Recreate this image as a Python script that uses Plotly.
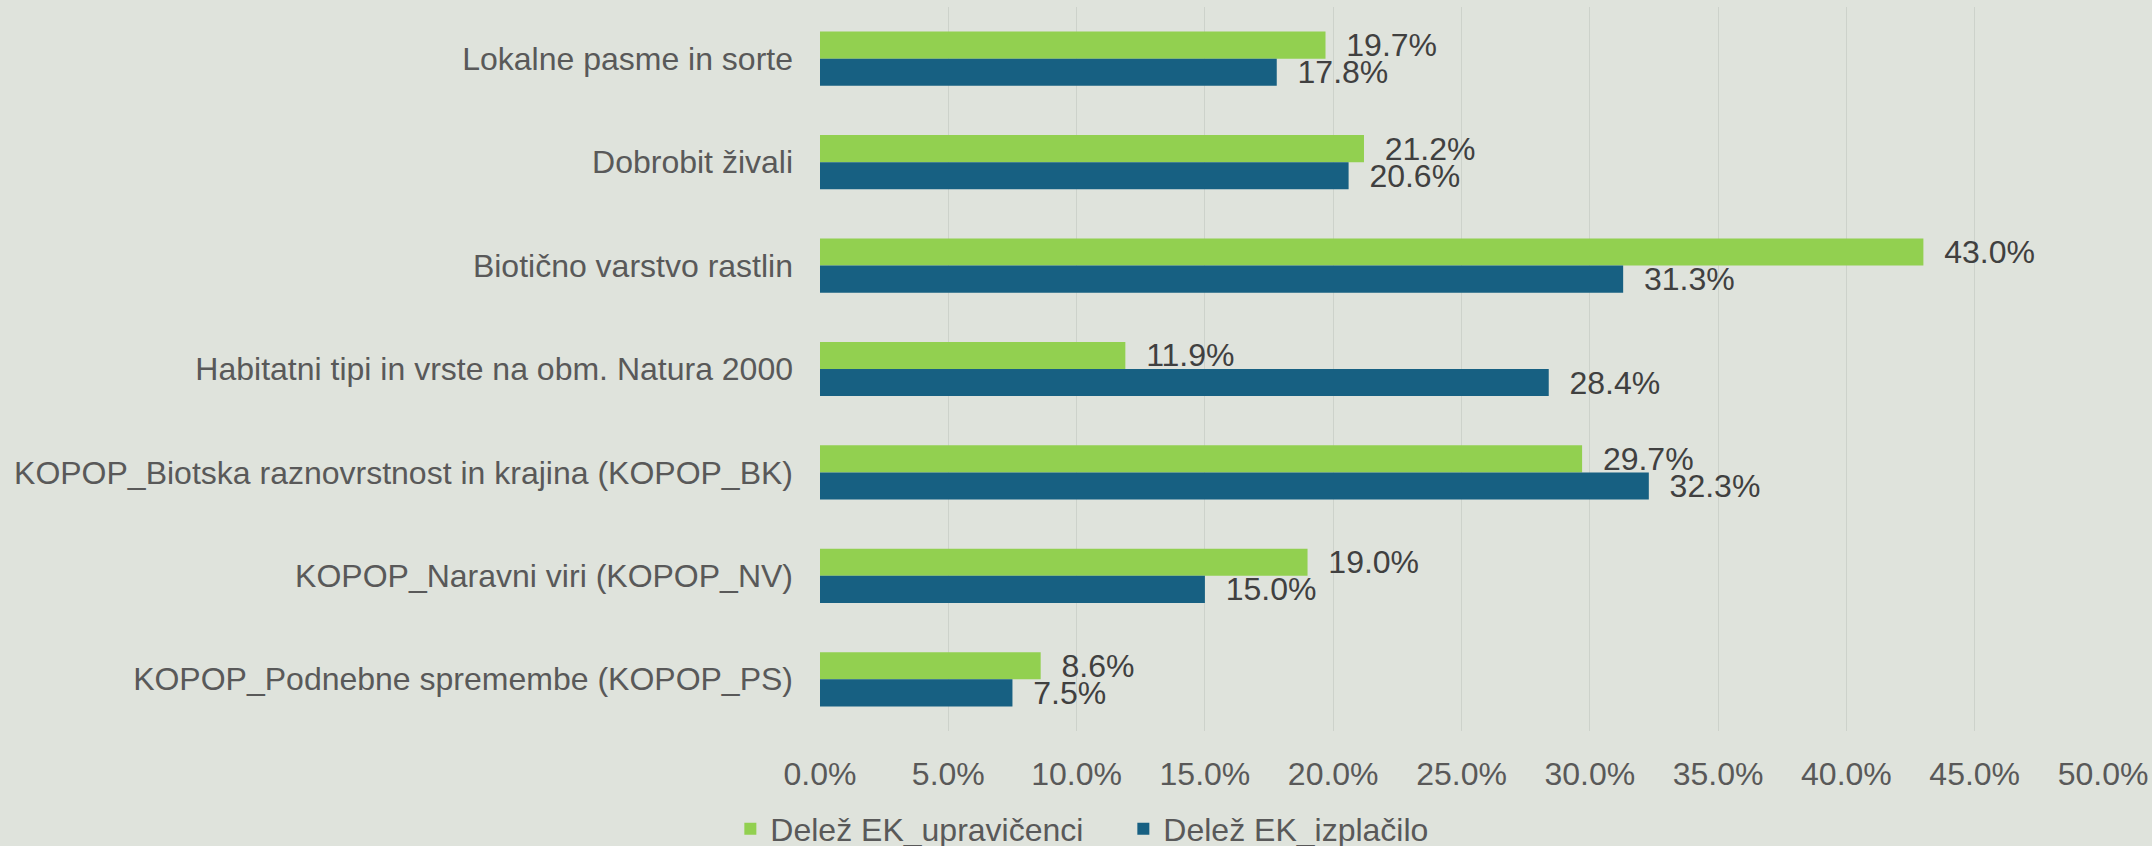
import plotly.graph_objects as go

categories = [
    "Lokalne pasme in sorte",
    "Dobrobit živali",
    "Biotično varstvo rastlin",
    "Habitatni tipi in vrste na obm. Natura 2000",
    "KOPOP_Biotska raznovrstnost in krajina (KOPOP_BK)",
    "KOPOP_Naravni viri (KOPOP_NV)",
    "KOPOP_Podnebne spremembe (KOPOP_PS)",
]
upravicenci = [0.197, 0.212, 0.430, 0.119, 0.297, 0.190, 0.086]
izplacilo = [0.178, 0.206, 0.313, 0.284, 0.323, 0.150, 0.075]
series_names = ["Delež EK_upravičenci", "Delež EK_izplačilo"]

FONT = "Liberation Sans, Arial, sans-serif"
BG = "#DFE3DC"
FS = 32

fig = go.Figure()
for name, vals, color in [
    (series_names[0], upravicenci, "#92D050"),
    (series_names[1], izplacilo, "#176082"),
]:
    fig.add_trace(go.Bar(
        y=categories, x=vals, name=name, orientation="h",
        marker=dict(color=color, line=dict(width=0)),
        texttemplate="&nbsp;&nbsp;%{x:.1%}", textposition="outside",
        textfont=dict(family=FONT, size=FS, color="#404040"),
        constraintext="none", cliponaxis=False,
    ))

fig.update_layout(
    width=2152, height=846,
    paper_bgcolor=BG, plot_bgcolor=BG,
    barmode="group", bargap=0.476, bargroupgap=0,
    margin=dict(l=820, r=49, t=7, b=115, autoexpand=False),
    font=dict(family=FONT, size=FS, color="#595959"),
    showlegend=True,
    legend=dict(
        orientation="h", xref="container", yref="paper",
        x=0.522, xanchor="center", y=-0.1354, yanchor="middle",
        font=dict(family=FONT, size=FS, color="#595959"),
        traceorder="normal", itemwidth=30, entrywidth=348,
        bgcolor="rgba(0,0,0,0)",
    ),
    xaxis=dict(
        range=[0, 0.5], dtick=0.05, tickformat=".1%",
        showgrid=True, gridcolor="#CDD2CB", gridwidth=1,
        zeroline=False, showline=False, ticks="",
        ticklabelstandoff=21,
        tickfont=dict(family=FONT, size=FS, color="#595959"),
    ),
    yaxis=dict(
        autorange="reversed", showgrid=False, showline=False, ticks="",
        ticklabelstandoff=26,
        tickfont=dict(family=FONT, size=FS, color="#595959"),
    ),
)

fig.write_html(
    "out.html",
    config={"displayModeBar": False},
    post_script="document.body.style.margin='0';document.body.style.background='" + BG + "';",
)
